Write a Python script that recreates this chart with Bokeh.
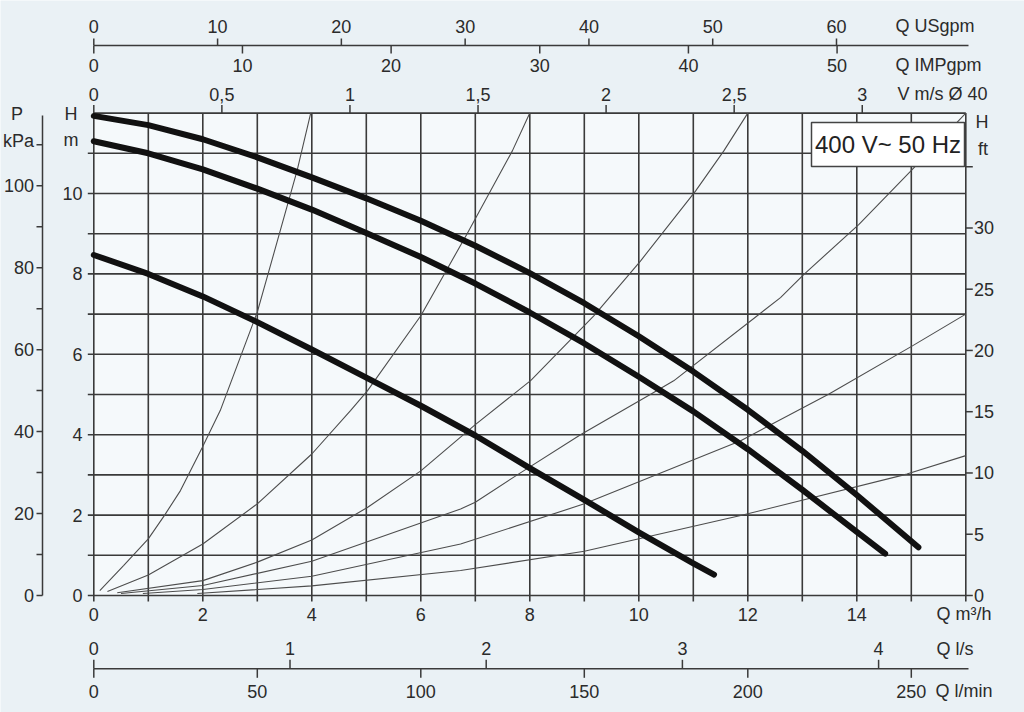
from bokeh.plotting import figure
from bokeh.models import Range1d, ColumnDataSource
from bokeh.core.properties import value
from bokeh.embed import file_html
from bokeh.resources import INLINE

# ---------------- data ----------------
Q_MAX = 16.0      # m3/h (chart width)
H_MAX = 12.0      # m    (chart height)

# pump curves (Q in m3/h, H in m)
top_q = [0, 1, 2, 3, 4, 5, 6, 7, 8, 9, 10, 11, 12, 13, 14, 15.13]
top_h = [11.93, 11.70, 11.35, 10.90, 10.40, 9.88, 9.32, 8.70, 8.02, 7.27, 6.45, 5.57, 4.62, 3.60, 2.50, 1.20]
mid_q = [0, 1, 2, 3, 4, 5, 6, 7, 8, 9, 10, 11, 12, 13, 14, 14.52]
mid_h = [11.30, 11.00, 10.60, 10.12, 9.60, 9.02, 8.42, 7.76, 7.04, 6.27, 5.44, 4.58, 3.64, 2.63, 1.58, 1.04]
low_q = [0, 1, 2, 3, 4, 5, 6, 7, 8, 9, 10, 11, 11.38]
low_h = [8.47, 8.0, 7.44, 6.80, 6.12, 5.42, 4.72, 3.98, 3.17, 2.38, 1.57, 0.80, 0.52]

# system (pipe) curves, thin lines
sys1_q = [0.11, 0.55, 1.0, 1.3, 1.59, 1.99, 2.32, 3.0, 3.30, 3.73, 3.98]
sys1_h = [0.12, 0.75, 1.41, 2.0, 2.61, 3.68, 4.6, 7.05, 8.49, 10.57, 12.0]
sys2_q = [0.25, 1.0, 2.0, 3.0, 4.0, 4.71, 5.02, 6.0, 6.85, 7.68, 8.0]
sys2_h = [0.10, 0.51, 1.28, 2.28, 3.52, 4.6, 5.09, 6.96, 9.0, 11.06, 12.0]
sys3_q = [0.43, 2.0, 3.0, 4.0, 5.02, 6.0, 7.0, 8.02, 9.17, 10.03, 11.04, 11.56, 12.0]
sys3_h = [0.07, 0.37, 0.83, 1.38, 2.19, 3.1, 4.25, 5.35, 6.95, 8.32, 10.06, 11.06, 12.0]
sys4_q = [0.5, 2.0, 4.0, 6.73, 7.0, 7.77, 8.93, 10.21, 10.64, 12.6, 13.03, 14.04, 15.02, 16.0]
sys4_h = [0.05, 0.25, 0.85, 2.15, 2.32, 3.0, 4.0, 5.0, 5.34, 7.41, 7.99, 9.23, 10.6, 12.0]
sys5_q = [0.9, 2.0, 4.0, 6.73, 9.0, 11.87, 13.49, 15.02, 16.0]
sys5_h = [0.05, 0.15, 0.48, 1.28, 2.28, 3.85, 5.01, 6.21, 7.0]
sys6_q = [1.9, 4.0, 6.73, 9.0, 11.87, 14.92, 16.0]
sys6_h = [0.05, 0.24, 0.62, 1.1, 1.99, 3.02, 3.48]

# unit conversions of the secondary scales
US_PER_M3H = 4.4029
IMP_PER_M3H = 3.6662
M3H_PER_MS = 4.70           # m3/h for 1 m/s in a 40 mm pipe
M3H_PER_LS = 3.6
LMIN_PER_M3H = 1000 / 60
KPA_PER_M = 9.81
FT_PER_M = 3.2808

# tick values
q_ticks = [0, 2, 4, 6, 8, 10, 12, 14]
q_grid = list(range(0, 17))
h_ticks = [0, 2, 4, 6, 8, 10]
h_grid = list(range(0, 13))
h_marks = list(range(0, 12))
kpa_ticks = [0, 20, 40, 60, 80, 100]
kpa_marks = [0, 10, 20, 30, 40, 50, 60, 70, 80, 90, 100, 110]
ft_ticks = [0, 5, 10, 15, 20, 25, 30]
ft_marks = [0, 5, 10, 15, 20, 25, 30, 35]
us_ticks = [0, 10, 20, 30, 40, 50, 60]
imp_ticks = [0, 10, 20, 30, 40, 50]
v_ticks = [0, 0.5, 1, 1.5, 2, 2.5, 3]
ls_ticks = [0, 1, 2, 3, 4]
lmin_ticks = [0, 50, 100, 150, 200, 250]

# ---------------- layout (pixels) ----------------
W, HGT = 1024, 712
Q0_PX, PX_PER_Q = 93.3, 54.5      # where Q = 0 sits, pixels per m3/h
H0_PX, PX_PER_H = 595.0, 40.2     # where H = 0 sits, pixels per m


def qx(px):
    return (px - Q0_PX) / PX_PER_Q


def hy(py):
    return (H0_PX - py) / PX_PER_H


def dx(n):
    return n / PX_PER_Q


def dy(n):
    return n / PX_PER_H


FONT = "Liberation Sans"
TXT = "#2b2b2b"
LINE = "#3a3a3a"
FS = "18px"

p = figure(width=W, height=HGT,
           x_range=Range1d(qx(0), qx(W)), y_range=Range1d(hy(HGT), hy(0)),
           x_axis_location=None, y_axis_location=None,
           toolbar_location=None, output_backend="svg", min_border=0)
p.min_border_left = p.min_border_right = p.min_border_top = p.min_border_bottom = 0
p.outline_line_color = None
p.background_fill_color = "#eaf1f5"
p.border_fill_color = "#eaf1f5"
p.xgrid.visible = False
p.ygrid.visible = False

# chart area
p.quad(left=[0], right=[Q_MAX], bottom=[0], top=[H_MAX], fill_color="#f5f9fb", line_color=None)


def segs(x0, y0, x1, y1, width=1.5, color=LINE):
    p.segment(x0=x0, y0=y0, x1=x1, y1=y1, line_color=color, line_width=width)


def texts(xs, ys, labels, align, size=FS, font=FONT, color=TXT):
    src = ColumnDataSource(dict(x=list(xs), y=list(ys), t=list(labels)))
    p.text(x="x", y="y", text="t", source=src, text_align=align, text_baseline="middle",
           text_font=value(font), text_font_size=value(size), text_color=color)


def fmt(v):
    return f"{v:g}".replace(".", ",")


# grid (m3/h verticals extend 6 px below as ticks; m horizontals)
segs(q_grid, [-dy(6)] * len(q_grid), q_grid, [H_MAX] * len(q_grid), width=1.6)
segs([0] * len(h_grid), h_grid, [Q_MAX] * len(h_grid), h_grid, width=1.6)
segs([-dx(6)] * len(h_marks), h_marks, [0] * len(h_marks), h_marks, width=1.6)

# ---- bottom scales
texts(q_ticks, [hy(613.5)] * len(q_ticks), [fmt(v) for v in q_ticks], "center")
texts([qx(936)], [hy(613.5)], ["Q m³/h"], "left")

y_flow = hy(668.3)
segs([0], [y_flow], [qx(968)], [y_flow])
ls_q = [v * M3H_PER_LS for v in ls_ticks]
segs(ls_q, [y_flow] * len(ls_q), ls_q, [y_flow + dy(9)] * len(ls_q))
texts(ls_q, [hy(647.5)] * len(ls_q), [fmt(v) for v in ls_ticks], "center")
texts([qx(936)], [hy(648.5)], ["Q l/s"], "left")
lmin_q = [v / LMIN_PER_M3H for v in lmin_ticks]
segs(lmin_q, [y_flow] * len(lmin_q), lmin_q, [y_flow - dy(9)] * len(lmin_q))
texts(lmin_q, [hy(690.5)] * len(lmin_q), [fmt(v) for v in lmin_ticks], "center")
texts([qx(935)], [hy(690.5)], ["Q l/min"], "left")

# ---- top scales
v_q = [v * M3H_PER_MS for v in v_ticks]
segs(v_q, [H_MAX] * len(v_q), v_q, [H_MAX + dy(8)] * len(v_q))
texts(v_q, [hy(93.5)] * len(v_q), [fmt(v) for v in v_ticks], "center")
texts([qx(897)], [hy(93)], ["V m/s Ø 40"], "left")

y_gpm = hy(45)
segs([0], [y_gpm], [qx(968)], [y_gpm])
imp_q = [v / IMP_PER_M3H for v in imp_ticks]
segs(imp_q, [y_gpm] * len(imp_q), imp_q, [y_gpm - dy(8)] * len(imp_q))
texts(imp_q, [hy(64.5)] * len(imp_q), [fmt(v) for v in imp_ticks], "center")
texts([qx(895)], [hy(64.5)], ["Q IMPgpm"], "left")
us_q = [v / US_PER_M3H for v in us_ticks]
segs(us_q, [y_gpm] * len(us_q), us_q, [y_gpm + dy(7)] * len(us_q))
texts(us_q, [hy(25.5)] * len(us_q), [fmt(v) for v in us_ticks], "center")
texts([qx(895)], [hy(25.5)], ["Q USgpm"], "left")

# ---- left scales
texts([qx(82)] * len(h_ticks), h_ticks, [fmt(v) for v in h_ticks], "right")
texts([qx(70.5), qx(70.5)], [hy(113), hy(139.5)], ["H", "m"], "center")

x_kpa = qx(42)
segs([x_kpa], [0], [x_kpa], [hy(115)])
kpa_h = [v / KPA_PER_M for v in kpa_marks]
segs([x_kpa] * len(kpa_h), kpa_h, [x_kpa - dx(6)] * len(kpa_h), kpa_h)
texts([qx(33.5)] * len(kpa_ticks), [v / KPA_PER_M for v in kpa_ticks],
      [fmt(v) for v in kpa_ticks], "right")
texts([qx(16.5)], [hy(113.3)], ["P"], "center")
texts([qx(33.5)], [hy(140)], ["kPa"], "right")

# ---- right scale (ft)
ft_h = [v / FT_PER_M for v in ft_marks]
segs([Q_MAX] * len(ft_h), ft_h, [Q_MAX + dx(7)] * len(ft_h), ft_h)
texts([qx(973.5)] * len(ft_ticks), [v / FT_PER_M for v in ft_ticks],
      [fmt(v) for v in ft_ticks], "left")
texts([qx(975), qx(977.5)], [hy(121.7), hy(148)], ["H", "ft"], "left")

# ---- system curves
for qs, hs in [(sys1_q, sys1_h), (sys2_q, sys2_h), (sys3_q, sys3_h),
               (sys4_q, sys4_h), (sys5_q, sys5_h), (sys6_q, sys6_h)]:
    p.line(qs, hs, line_color="#4d4d4d", line_width=1.1)

# ---- pump curves
for qs, hs in [(top_q, top_h), (mid_q, mid_h), (low_q, low_h)]:
    p.line(qs, hs, line_color="#111111", line_width=6, line_cap="round", line_join="round")

# ---- voltage / frequency box
p.quad(left=[qx(811)], right=[qx(964)], bottom=[hy(166)], top=[hy(122)],
       fill_color="white", line_color="#444444", line_width=1.5)
texts([qx(887.5)], [hy(144)], ["400 V~ 50 Hz"], "center", size="24px", color="#222222")

open("out.html", "w").write(file_html(p, INLINE))
